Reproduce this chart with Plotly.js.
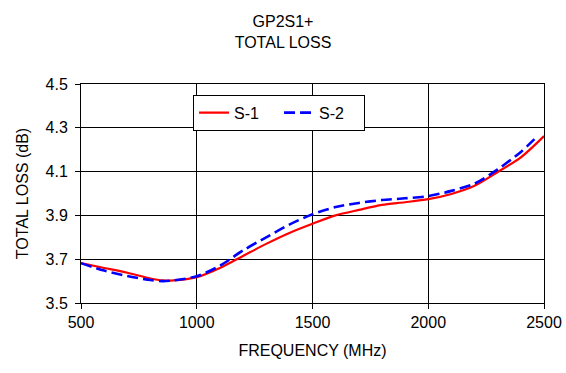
<!DOCTYPE html>
<html>
<head>
<meta charset="utf-8">
<script src="https://cdn.plot.ly/plotly-3.0.1.min.js"></script>
<style>html,body{margin:0;padding:0;background:#fff;}#chart{width:566px;height:373px;}</style>
</head>
<body>
<div id="chart"></div>
<script>
const freqS1 = [500, 600, 700, 800, 850, 900, 1000, 1100, 1200, 1300, 1400, 1500, 1600, 1700, 1800, 1900, 2000, 2100, 2200, 2300, 2400, 2500];
const lossS1 = [3.682, 3.660, 3.638, 3.612, 3.603, 3.603, 3.618, 3.660, 3.715, 3.770, 3.820, 3.862, 3.900, 3.925, 3.948, 3.960, 3.974, 3.998, 4.035, 4.098, 4.165, 4.262];
const freqS2 = [500, 600, 700, 800, 850, 900, 1000, 1100, 1200, 1300, 1400, 1500, 1600, 1700, 1800, 1900, 2000, 2100, 2200, 2300, 2400, 2475];
const lossS2 = [3.682, 3.648, 3.623, 3.605, 3.600, 3.603, 3.622, 3.670, 3.740, 3.800, 3.858, 3.905, 3.938, 3.957, 3.970, 3.978, 3.988, 4.012, 4.045, 4.110, 4.190, 4.265];
const seriesNames = ["S-1", "S-2"];
const xTicks = [500, 1000, 1500, 2000, 2500];
const yTicks = [3.5, 3.7, 3.9, 4.1, 4.3, 4.5];
const titleLines = ["GP2S1+", "TOTAL LOSS"];

const FONT = "Liberation Sans, Arial, sans-serif";

const traces = [
  {x: freqS1, y: lossS1, name: seriesNames[0], mode: "lines",
   line: {color: "#ff0000", width: 2.2, shape: "spline", smoothing: 0.8}},
  {x: freqS2, y: lossS2, name: seriesNames[1], mode: "lines",
   line: {color: "#0000ff", width: 2.6, dash: "11px,5px", shape: "spline", smoothing: 0.8}}
];

const axisCommon = {
  showline: true, linecolor: "#000", linewidth: 1, mirror: true,
  showgrid: true, gridcolor: "#000", gridwidth: 1,
  ticks: "outside", ticklen: 5, tickcolor: "#000", tickwidth: 1,
  zeroline: false, tickfont: {family: FONT, size: 16, color: "#000"}
};

const layout = {
  width: 566, height: 373,
  margin: {l: 81, r: 22, t: 84, b: 70},
  paper_bgcolor: "#fff", plot_bgcolor: "#fff",
  font: {family: FONT, size: 16, color: "#000"},
  title: {text: titleLines.join("<br>"), font: {family: FONT, size: 16, color: "#000"},
          x: 0.5, xref: "container", y: 0.928, yref: "container", yanchor: "middle"},
  xaxis: Object.assign({}, axisCommon, {
    range: [500, 2500], tickvals: xTicks, ticktext: xTicks.map(String),
    title: {text: "FREQUENCY (MHz)", font: {family: FONT, size: 16, color: "#000"}, standoff: 14}
  }),
  yaxis: Object.assign({}, axisCommon, {
    range: [3.5, 4.5], tickvals: yTicks, ticktext: yTicks.map(v => v.toFixed(1)),
    ticklabelstandoff: 4,
    title: {text: "TOTAL LOSS (dB)", font: {family: FONT, size: 16, color: "#000"}, standoff: 12}
  }),
  legend: {orientation: "h", x: 0.242, y: 0.951, xanchor: "left", yanchor: "top",
           bgcolor: "#fff", bordercolor: "#000", borderwidth: 1,
           font: {family: FONT, size: 16, color: "#000"}, entrywidth: 40},
  showlegend: true
};

Plotly.newPlot("chart", traces, layout, {displayModeBar: false, staticPlot: true});
</script>
</body>
</html>
